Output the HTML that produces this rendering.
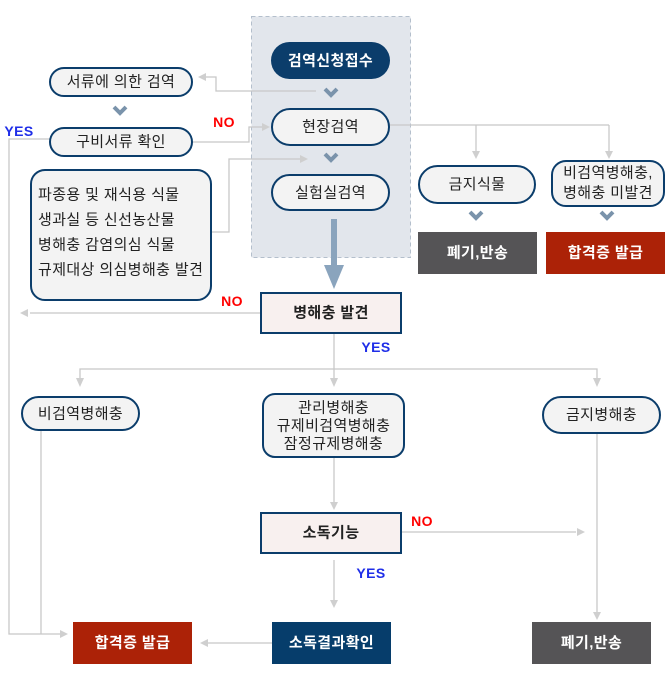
<!DOCTYPE html>
<html><head><meta charset="utf-8"><style>
html,body{margin:0;padding:0;background:#fff;}
svg{display:block;}
text{font-family:"Liberation Sans","Noto Sans CJK KR",sans-serif;font-size:15px;fill:#222;text-anchor:middle;dominant-baseline:central;letter-spacing:0.4px;}
.w{fill:#fff;font-weight:bold;}
.b{font-weight:bold;}
.ln{stroke:#c8c8c8;stroke-width:1.3;fill:none;}
.ah{fill:#cfcfcf;}
.pill{fill:#f3f3f3;stroke:#0b3d6b;stroke-width:2;}
.lab{font-size:14px;font-weight:bold;}
</style></head><body>
<svg width="670" height="679" viewBox="0 0 670 679">
<rect x="251.5" y="16.5" width="159" height="241" fill="#e2e6ec" stroke="#b4bfcc" stroke-dasharray="4,3"/>
<g class="ln">
<polyline points="316,91 216,91 216,77 205,77"/>
<polyline points="192,142 249,142 249,127 262,127"/>
<polyline points="211,232 229,232 229,159 300,159"/>
<polyline points="50,139 9,139 9,634 62,634"/>
<line x1="41" y1="430" x2="41" y2="634"/>
<polyline points="260,313 30,313"/>
<line x1="389" y1="125" x2="609" y2="125"/>
<line x1="476" y1="125" x2="476" y2="152"/>
<line x1="609" y1="125" x2="609" y2="152"/>
<line x1="334" y1="333" x2="334" y2="378"/>
<polyline points="80,378 80,369 597,369 597,378"/>
<line x1="334" y1="457" x2="334" y2="504"/>
<line x1="402" y1="532" x2="576" y2="532"/>
<line x1="334" y1="560" x2="334" y2="600"/>
<line x1="597" y1="433" x2="597" y2="612"/>
<line x1="272" y1="643" x2="208" y2="643"/>
</g>
<g class="ah">
<polygon points="198,77 206,73 206,81"/>
<polygon points="270,127 262,123 262,131"/>
<polygon points="308,159 300,155 300,163"/>
<polygon points="68,634 60,630 60,638"/>
<polygon points="20,313 28,309 28,317"/>
<polygon points="476,159 472,151 480,151"/>
<polygon points="609,159 605,151 613,151"/>
<polygon points="80,387 76,378 84,378"/>
<polygon points="334,387 330,378 338,378"/>
<polygon points="597,387 593,378 601,378"/>
<polygon points="334,510 330,502 338,502"/>
<polygon points="585,532 577,528 577,536"/>
<polygon points="334,608 330,600 338,600"/>
<polygon points="597,620 593,612 601,612"/>
<polygon points="200,643 208,639 208,647"/>
</g>
<g fill="none" stroke="#7a93ab" stroke-width="4">
<polyline points="325,89 331,95 337,89"/>
<polyline points="325,154 331,160 337,154"/>
<polyline points="114,107 120,113 126,107"/>
<polyline points="470,212 476,218 482,212"/>
<polyline points="601,212 607,218 613,212"/>
</g>
<rect x="331" y="219" width="6" height="48" fill="#8aa4bd"/>
<polygon points="324,265 344,265 334,289" fill="#8aa4bd"/>
<rect x="271" y="42" width="119" height="37" rx="18.5" fill="#0b3d6b"/>
<text x="330.5" y="61" class="w">검역신청접수</text>
<rect x="272" y="109" width="117" height="36" rx="18" class="pill"/>
<text x="330.5" y="127">현장검역</text>
<rect x="272" y="175" width="117" height="35" rx="17.5" class="pill"/>
<text x="330.5" y="193">실험실검역</text>
<rect x="50" y="68" width="142" height="28" rx="14" class="pill"/>
<text x="121" y="82">서류에 의한 검역</text>
<rect x="50" y="128" width="142" height="28" rx="14" class="pill"/>
<text x="121" y="142">구비서류 확인</text>
<rect x="31" y="170" width="180" height="130" rx="14" class="pill"/>
<text x="38" y="195" style="text-anchor:start">파종용 및 재식용 식물</text>
<text x="38" y="220" style="text-anchor:start">생과실 등 신선농산물</text>
<text x="38" y="245" style="text-anchor:start">병해충 감염의심 식물</text>
<text x="38" y="270" style="text-anchor:start">규제대상 의심병해충 발견</text>
<rect x="419" y="166" width="116" height="37" rx="18.5" class="pill"/>
<text x="477" y="184.5">금지식물</text>
<rect x="552" y="161" width="112" height="45" rx="14" class="pill"/>
<text x="608" y="173">비검역병해충,</text>
<text x="608" y="193">병해충 미발견</text>
<rect x="418" y="232" width="119" height="42" fill="#555456"/>
<text x="477.5" y="253" class="w">폐기,반송</text>
<rect x="546" y="232" width="119" height="42" fill="#ac2207"/>
<text x="605.5" y="253" class="w">합격증 발급</text>
<rect x="261" y="293" width="140" height="40" fill="#f8f0ef" stroke="#0b3d6b" stroke-width="2"/>
<text x="331" y="313" class="b">병해충 발견</text>
<rect x="22" y="397" width="117" height="33" rx="16.5" class="pill"/>
<text x="80.5" y="414">비검역병해충</text>
<rect x="263" y="394" width="141" height="63" rx="12" class="pill"/>
<text x="333.5" y="408">관리병해충</text>
<text x="333.5" y="426">규제비검역병해충</text>
<text x="333.5" y="444">잠정규제병해충</text>
<rect x="543" y="397" width="117" height="36" rx="18" class="pill"/>
<text x="601.5" y="415">금지병해충</text>
<rect x="261" y="513" width="140" height="40" fill="#f8f0ef" stroke="#0b3d6b" stroke-width="2"/>
<text x="331" y="533" class="b">소독기능</text>
<rect x="272" y="622" width="119" height="42" fill="#063d6b"/>
<text x="331.5" y="643" class="w">소독결과확인</text>
<rect x="73" y="622" width="119" height="42" fill="#ac2207"/>
<text x="132.5" y="643" class="w">합격증 발급</text>
<rect x="532" y="622" width="119" height="42" fill="#555456"/>
<text x="591.5" y="643" class="w">폐기,반송</text>
<text x="19" y="131" class="lab" style="fill:#1f2ee8">YES</text>
<text x="224" y="122" class="lab" style="fill:#f00">NO</text>
<text x="232" y="301" class="lab" style="fill:#f00">NO</text>
<text x="376" y="347" class="lab" style="fill:#1f2ee8">YES</text>
<text x="422" y="521" class="lab" style="fill:#f00">NO</text>
<text x="371" y="573" class="lab" style="fill:#1f2ee8">YES</text>
</svg>
</body></html>
